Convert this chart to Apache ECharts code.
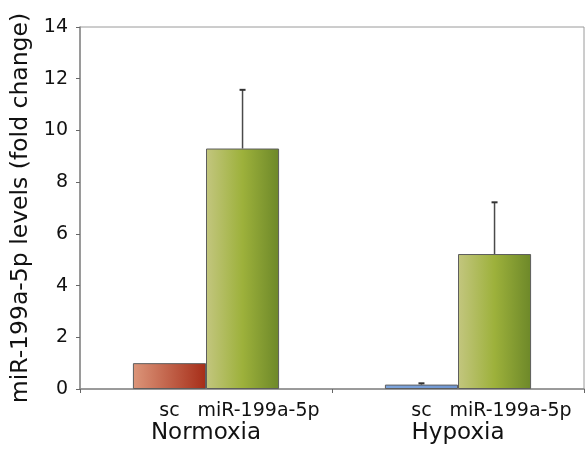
<!DOCTYPE html>
<html>
<head>
<meta charset="utf-8">
<script src="https://cdn.jsdelivr.net/npm/echarts@6/dist/echarts.min.js"></script>
<style>
  html, body { margin: 0; padding: 0; background: #fff; }
  #container { width: 586px; height: 458px; }
</style>
</head>
<body>
<div id="container"></div>
<script>
// data
var groups = ['Normoxia', 'Hypoxia'];
var scValues = [1.0, 0.17];
var scErrors = [0, 0.05];
var mirValues = [9.3, 5.22];
var mirErrors = [2.27, 2.0];
var yMin = 0, yMax = 14, yStep = 2;

var FONT = 'DejaVu Sans';
var BAR_FRAC = 0.29;

function grad(stops) {
    return new echarts.graphic.LinearGradient(0, 0, 1, 0, stops);
}
var redFill = grad([{offset: 0, color: '#dc967a'}, {offset: 1, color: '#a62d18'}]);
var blueFill = grad([{offset: 0, color: '#7ea6de'}, {offset: 1, color: '#6f96d2'}]);
var greenFill = grad([
    {offset: 0, color: '#c3c67f'},
    {offset: 0.5, color: '#9db13b'},
    {offset: 1, color: '#6d8829'}
]);

// error bars: [category, value, err, side]
var errData = [];
groups.forEach(function (g, i) {
    if (scErrors[i] > 0) errData.push([i, scValues[i], scErrors[i], -1]);
    if (mirErrors[i] > 0) errData.push([i, mirValues[i], mirErrors[i], 1]);
});

var chart = echarts.init(document.getElementById('container'));
chart.setOption({
    animation: false,
    grid: {
        left: 80, right: 2, top: 27, bottom: 69,
        show: true, borderColor: '#9a9a9a', borderWidth: 1
    },
    xAxis: {
        type: 'category',
        data: groups,
        axisLine: {lineStyle: {color: '#8a8a8a', width: 1.5}},
        axisTick: {show: true, length: 4, lineStyle: {color: '#666'}},
        axisLabel: {
            margin: 33, color: '#111',
            fontFamily: FONT, fontSize: 23
        }
    },
    yAxis: {
        type: 'value',
        min: yMin, max: yMax, interval: yStep,
        name: 'miR-199a-5p levels (fold change)',
        nameLocation: 'middle',
        nameGap: 44,
        nameTextStyle: {fontFamily: FONT, fontSize: 23.5, color: '#111'},
        splitLine: {show: false},
        axisLine: {show: true, lineStyle: {color: '#8a8a8a', width: 1.5}},
        axisTick: {show: true, length: 4, lineStyle: {color: '#666'}},
        axisLabel: {margin: 12, color: '#111', fontFamily: FONT, fontSize: 19}
    },
    series: [
        {
            name: 'sc',
            type: 'bar',
            barWidth: (BAR_FRAC * 100) + '%',
            barGap: '0%',
            data: scValues.map(function (v, i) {
                return {value: v, itemStyle: {color: i === 0 ? redFill : blueFill}};
            }),
            itemStyle: {borderColor: '#5e5e5e', borderWidth: 1},
            label: {
                show: true, position: 'bottom', distance: 13,
                formatter: 'sc', color: '#111',
                fontFamily: FONT, fontSize: 19
            }
        },
        {
            name: 'miR-199a-5p',
            type: 'bar',
            barWidth: (BAR_FRAC * 100) + '%',
            barGap: '0%',
            data: mirValues,
            itemStyle: {color: greenFill, borderColor: '#5e5e5e', borderWidth: 1},
            label: {
                show: true, position: 'bottom', distance: 13,
                offset: [16, 0],
                formatter: 'miR-199a-5p', color: '#111',
                fontFamily: FONT, fontSize: 19
            }
        },
        {
            type: 'custom',
            data: errData,
            z: 5,
            renderItem: function (params, api) {
                var cat = api.value(0);
                var v = api.value(1);
                var e = api.value(2);
                var side = api.value(3);
                var band = api.size([1, 0])[0];
                var dx = side * band * BAR_FRAC / 2;
                var p0 = api.coord([cat, v]);
                var p1 = api.coord([cat, v + e]);
                var x = p0[0] + dx;
                var style = {stroke: '#4a4a4a', lineWidth: 1.5};
                return {
                    type: 'group',
                    children: [
                        {type: 'line', shape: {x1: x, y1: p0[1], x2: x, y2: p1[1]}, style: style},
                        {type: 'line', shape: {x1: x - 3, y1: p1[1], x2: x + 3, y2: p1[1]}, style: {stroke: '#333', lineWidth: 2}}
                    ]
                };
            }
        }
    ]
});
</script>
</body>
</html>
